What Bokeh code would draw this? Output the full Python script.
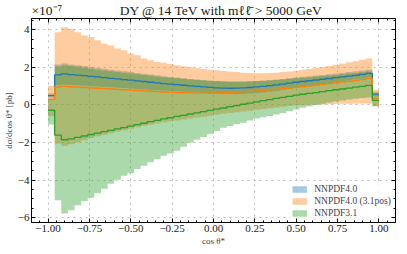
import numpy as np
from bokeh.plotting import figure
from bokeh.models import (Range1d, LinearAxis, Legend, LegendItem,
                          FixedTicker, CustomJSTickFormatter)
from bokeh.embed import file_html
from bokeh.resources import INLINE

# bin edges in cos(theta*) : 50 bins of width 0.04
bin_edges = [round(-1.0 + 0.04 * k, 2) for k in range(51)]

# values in units of 1e-7 pb
nn40_c = [0.50, 1.60, 1.65, 1.62, 1.59, 1.56, 1.52, 1.49, 1.46, 1.42,
          1.39, 1.35, 1.32, 1.28, 1.25, 1.21, 1.18, 1.14, 1.11, 1.08,
          1.05, 1.02, 0.99, 0.96, 0.94, 0.91, 0.90, 0.89, 0.90, 0.91,
          0.93, 0.96, 0.99, 1.03, 1.07, 1.11, 1.16, 1.21, 1.25, 1.29,
          1.33, 1.37, 1.41, 1.46, 1.50, 1.54, 1.58, 1.63, 1.68, 0.58]
nn40_hi = [0.62, 2.15, 2.20, 2.16, 2.12, 2.07, 2.02, 1.97, 1.93, 1.88,
           1.84, 1.79, 1.75, 1.70, 1.66, 1.62, 1.58, 1.53, 1.49, 1.46,
           1.42, 1.38, 1.35, 1.31, 1.29, 1.27, 1.25, 1.24, 1.24, 1.24,
           1.25, 1.27, 1.29, 1.32, 1.35, 1.38, 1.42, 1.46, 1.50, 1.53,
           1.57, 1.60, 1.64, 1.68, 1.72, 1.76, 1.80, 1.84, 1.88, 0.70]
nn40_lo = [0.38, 1.05, 1.08, 1.06, 1.04, 1.02, 1.00, 0.98, 0.96, 0.94,
           0.92, 0.90, 0.88, 0.85, 0.83, 0.80, 0.78, 0.76, 0.74, 0.72,
           0.70, 0.68, 0.66, 0.64, 0.62, 0.60, 0.59, 0.58, 0.58, 0.59,
           0.61, 0.64, 0.67, 0.71, 0.75, 0.80, 0.85, 0.90, 0.95, 1.00,
           1.05, 1.10, 1.15, 1.20, 1.25, 1.30, 1.35, 1.40, 1.46, 0.46]

pos_c = [0.30, 0.95, 0.99, 0.97, 0.95, 0.93, 0.91, 0.89, 0.87, 0.85,
         0.83, 0.81, 0.79, 0.77, 0.75, 0.73, 0.71, 0.69, 0.68, 0.66,
         0.65, 0.64, 0.63, 0.63, 0.63, 0.64, 0.65, 0.66, 0.68, 0.70,
         0.72, 0.75, 0.78, 0.81, 0.84, 0.87, 0.90, 0.94, 0.98, 1.02,
         1.06, 1.10, 1.14, 1.18, 1.22, 1.26, 1.30, 1.35, 1.40, 0.35]
pos_hi = [1.02, 3.87, 4.14, 4.05, 3.87, 3.70, 3.61, 3.44, 3.26, 3.17,
          3.00, 2.91, 2.74, 2.65, 2.47, 2.38, 2.29, 2.24, 2.18, 2.12,
          2.06, 2.01, 1.96, 1.92, 1.88, 1.85, 1.81, 1.78, 1.75, 1.72,
          1.70, 1.69, 1.69, 1.70, 1.72, 1.75, 1.78, 1.82, 1.87, 1.92,
          1.97, 2.02, 2.08, 2.14, 2.20, 2.27, 2.33, 2.40, 2.47, 0.81]
pos_lo = [-0.60, -2.05, -2.18, -2.09, -2.00, -1.88, -1.76, -1.66, -1.58, -1.50,
          -1.42, -1.34, -1.26, -1.19, -1.12, -1.05, -0.98, -0.92, -0.87, -0.82,
          -0.77, -0.72, -0.67, -0.62, -0.57, -0.52, -0.47, -0.43, -0.38, -0.34,
          -0.30, -0.25, -0.21, -0.17, -0.13, -0.10, -0.06, -0.03, -0.01, 0.01,
          0.02, 0.03, 0.04, 0.05, 0.06, 0.06, 0.07, 0.08, 0.08, -0.07]

nn31_c = [-0.28, -1.60, -1.85, -1.80, -1.72, -1.65, -1.57, -1.50, -1.42, -1.35,
          -1.27, -1.20, -1.12, -1.04, -0.97, -0.89, -0.82, -0.74, -0.68, -0.61,
          -0.55, -0.48, -0.42, -0.35, -0.29, -0.22, -0.16, -0.09, -0.03, 0.04,
          0.10, 0.17, 0.23, 0.29, 0.35, 0.40, 0.46, 0.52, 0.57, 0.62,
          0.66, 0.71, 0.76, 0.81, 0.85, 0.90, 0.95, 0.99, 1.04, 0.25]
nn31_hi = [0.35, 2.05, 2.12, 2.08, 2.03, 1.98, 1.93, 1.88, 1.84, 1.79,
           1.75, 1.71, 1.67, 1.63, 1.59, 1.55, 1.51, 1.48, 1.45, 1.42,
           1.39, 1.36, 1.33, 1.31, 1.29, 1.27, 1.26, 1.25, 1.25, 1.25,
           1.26, 1.27, 1.29, 1.31, 1.33, 1.36, 1.39, 1.42, 1.45, 1.48,
           1.51, 1.54, 1.57, 1.60, 1.63, 1.67, 1.70, 1.74, 1.78, 0.55]
nn31_lo = [-1.04, -5.07, -5.77, -5.60, -5.33, -5.10, -4.93, -4.69, -4.46, -4.19,
           -3.98, -3.76, -3.63, -3.41, -3.23, -3.05, -2.88, -2.70, -2.58, -2.44,
           -2.22, -2.00, -1.85, -1.70, -1.56, -1.38, -1.21, -1.12, -1.03, -0.95,
           -0.83, -0.72, -0.65, -0.58, -0.51, -0.42, -0.33, -0.24, -0.15, -0.07,
           0.00, 0.07, 0.13, 0.19, 0.24, 0.29, 0.33, 0.37, 0.40, -0.07]

labels = ["NNPDF4.0", "NNPDF4.0 (3.1pos)", "NNPDF3.1"]
colors = ["#1f77b4", "#ff7f0e", "#2ca02c"]

x_ticks = [-1.0, -0.75, -0.5, -0.25, 0.0, 0.25, 0.5, 0.75, 1.0]
x_minor = [round(-1.1 + 0.05 * k, 2) for k in range(45)]
y_ticks = [-6, -4, -2, 0, 2, 4]
y_minor = [-6.0 + 0.5 * k for k in range(22)]

scale_text = "×10⁻⁷"
title_text = "DY @ 14 TeV with mℓℓ̄ > 5000 GeV"

FONT = "Liberation Serif"


def ext(a):
    return list(a) + [a[-1]]


p = figure(frame_width=364, frame_height=204, output_backend="svg",
           toolbar_location=None,
           x_range=Range1d(-1.1, 1.1), y_range=Range1d(-6.25, 4.6),
           min_border_left=29, min_border_right=3, min_border_top=0,
           min_border_bottom=0)

# offset multiplier and title share the top line
p.title.text = scale_text + "\u00a0" * 17 + title_text
p.title.align = "left"
p.title.text_font = FONT
p.title.text_font_style = "normal"
p.title.text_font_size = "13.5px"
p.title.text_color = "#222222"
p.title.standoff = 1

series = [(nn40_c, nn40_lo, nn40_hi), (pos_c, pos_lo, pos_hi), (nn31_c, nn31_lo, nn31_hi)]
band_renderers = []
for (c, lo, hi), col in zip(series, colors):
    r = p.varea_step(x=bin_edges, y1=ext(lo), y2=ext(hi), step_mode="after",
                     fill_color=col, fill_alpha=0.4)
    band_renderers.append(r)
for (c, lo, hi), col in zip(series, colors):
    p.step(x=bin_edges, y=ext(c), mode="after", line_color=col, line_width=1.3)

xt = FixedTicker(ticks=x_ticks, minor_ticks=x_minor)
yt = FixedTicker(ticks=y_ticks, minor_ticks=y_minor)
fmt_x = CustomJSTickFormatter(code="return tick.toFixed(2).replace('-', '\u2212');")
fmt_y = CustomJSTickFormatter(code="return tick.toFixed(0).replace('-', '\u2212');")
fmt_none = CustomJSTickFormatter(code="return '';")

p.xaxis.ticker = xt
p.yaxis.ticker = yt
p.xaxis.formatter = fmt_x
p.yaxis.formatter = fmt_y
p.xaxis.axis_label = "cos θ*"
p.yaxis.axis_label = "dσ/dcos θ* [pb]"

for ax in (p.xaxis[0], p.yaxis[0]):
    ax.axis_line_color = None
    ax.major_tick_in = 4
    ax.major_tick_out = 0
    ax.minor_tick_in = 2
    ax.minor_tick_out = 0
    ax.major_tick_line_color = "black"
    ax.minor_tick_line_color = "black"
    ax.major_label_text_font = FONT
    ax.major_label_text_font_size = "11px"
    ax.major_label_text_color = "#222222"
    ax.major_label_standoff = 2
    ax.axis_label_text_font = FONT
    ax.axis_label_text_font_style = "normal"
    ax.axis_label_text_font_size = "9px"
    ax.axis_label_standoff = 1

for side, tk in (("right", yt), ("above", xt)):
    a = LinearAxis(ticker=tk, formatter=fmt_none,
                   major_label_text_font_size="1px",
                   major_label_standoff=0, axis_line_color=None,
                   major_tick_in=4, major_tick_out=0, minor_tick_in=2,
                   minor_tick_out=0, major_tick_line_color="black",
                   minor_tick_line_color="black")
    p.add_layout(a, side)

p.outline_line_color = "black"
p.outline_line_width = 1
p.outline_line_alpha = 1.0

p.xgrid.ticker = xt
p.ygrid.ticker = yt
for g in (p.xgrid[0], p.ygrid[0]):
    g.grid_line_color = "#b0b0b0"
    g.grid_line_dash = "dotted"
    g.grid_line_width = 0.8

legend = Legend(items=[LegendItem(label=l, renderers=[r])
                       for l, r in zip(labels, band_renderers)],
                location="bottom_right", label_text_font=FONT,
                label_text_font_size="9.5px", glyph_width=18, glyph_height=8,
                spacing=2, padding=3, margin=4, border_line_color=None,
                background_fill_alpha=0.8, label_standoff=6,
                label_height=9)
p.add_layout(legend)

open("out.html", "w").write(file_html(p, INLINE))
